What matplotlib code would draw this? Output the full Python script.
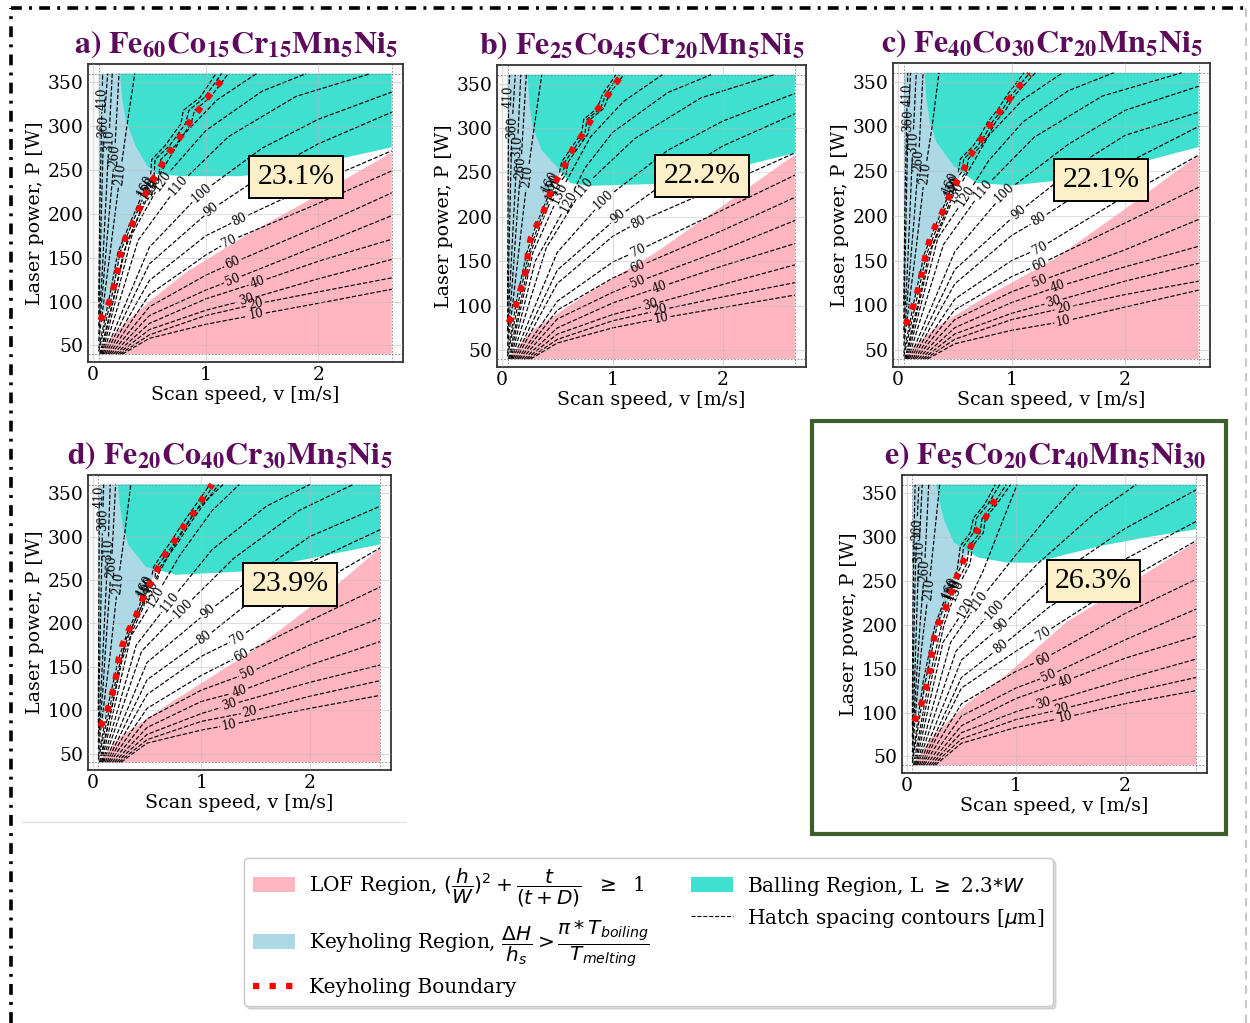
import numpy as np
import matplotlib
matplotlib.use('Agg')
import matplotlib.pyplot as plt
from matplotlib.contour import ContourSet
from matplotlib.patches import Patch, Rectangle
from matplotlib.lines import Line2D

plt.rcParams['font.family'] = 'DejaVu Serif'

W, H = 1250, 1023
LOF_C, KEY_C, BALL_C = '#ffb6c1', '#add8e6', '#40e0d0'

# ---------------- data ----------------
titles = [r'$\mathbf{a)\ Fe_{60}Co_{15}Cr_{15}Mn_{5}Ni_{5}}$',
          r'$\mathbf{b)\ Fe_{25}Co_{45}Cr_{20}Mn_{5}Ni_{5}}$',
          r'$\mathbf{c)\ Fe_{40}Co_{30}Cr_{20}Mn_{5}Ni_{5}}$',
          r'$\mathbf{d)\ Fe_{20}Co_{40}Cr_{30}Mn_{5}Ni_{5}}$',
          r'$\mathbf{e)\ Fe_{5}Co_{20}Cr_{40}Mn_{5}Ni_{30}}$']
percent = ['23.1%', '22.2%', '22.1%', '23.9%', '26.3%']
percent_pos = [(1.80, 242), (1.81, 246), (1.79, 240), (1.82, 245), (1.71, 250)]

# LOF region upper boundary (v [m/s], P [W])
lof_v = [[0.05, 0.11, 0.29, 0.52, 0.82, 1.20, 1.35, 2.00, 2.65],
         [0.05, 0.27, 0.78, 1.38, 1.98, 2.65],
         [0.05, 0.10, 0.34, 0.78, 1.37, 1.96, 2.65],
         [0.05, 0.25, 0.71, 1.48, 2.09, 2.65],
         [0.05, 0.25, 0.55, 0.92, 1.47, 2.08, 2.65]]
lof_P = [[40, 53, 76, 102, 133, 163, 175, 222, 270],
         [40, 72, 114, 159, 211, 270],
         [40, 50, 76, 110, 151, 204, 268],
         [40, 69, 108, 169, 227, 287],
         [40, 75, 110, 144, 204, 250, 295]]

# Balling region lower boundary
ball_v = [[0.24, 0.26, 0.29, 0.375, 0.48, 0.57, 0.80, 1.30, 1.60, 2.00, 2.30, 2.65],
          [0.23, 0.25, 0.28, 0.36, 0.50, 0.62, 0.80, 1.37, 1.80, 2.20, 2.65],
          [0.235, 0.25, 0.28, 0.34, 0.49, 0.69, 1.00, 1.37, 1.80, 2.20, 2.65],
          [0.23, 0.25, 0.28, 0.33, 0.49, 0.77, 1.42, 2.09, 2.65],
          [0.27, 0.30, 0.34, 0.43, 0.65, 0.92, 1.16, 1.77, 2.20, 2.65]]
ball_P = [[360, 330, 308, 278, 255, 245, 243, 243, 247, 258, 266, 276],
          [360, 325, 300, 275, 256, 238, 235, 237, 247, 258, 272],
          [360, 330, 305, 282, 256, 237, 234, 239, 250, 262, 277],
          [360, 335, 310, 290, 265, 256, 260, 277, 291],
          [360, 340, 320, 294, 277, 271, 271, 290, 300, 309]]

# Keyholing boundary
key_v = [[0.065, 0.124, 0.168, 0.197, 0.227, 0.248, 0.286, 0.345, 0.398, 0.448, 0.50, 0.566, 0.63, 0.705, 0.78, 0.846, 0.926, 1.0, 1.08, 1.165],
         [0.06, 0.114, 0.15, 0.19, 0.226, 0.235, 0.26, 0.316, 0.376, 0.42, 0.466, 0.54, 0.60, 0.656, 0.737, 0.80, 0.87, 0.947, 1.02, 1.08],
         [0.068, 0.118, 0.16, 0.19, 0.22, 0.244, 0.28, 0.33, 0.39, 0.44, 0.50, 0.57, 0.62, 0.69, 0.76, 0.83, 0.91, 0.99, 1.07, 1.16],
         [0.068, 0.123, 0.16, 0.194, 0.22, 0.237, 0.27, 0.32, 0.385, 0.437, 0.477, 0.548, 0.606, 0.668, 0.745, 0.815, 0.89, 0.97, 1.037, 1.10],
         [0.067, 0.119, 0.158, 0.189, 0.219, 0.228, 0.25, 0.289, 0.347, 0.393, 0.438, 0.48, 0.539, 0.60, 0.645, 0.72, 0.78, 0.843]]
key_P = [[78.5, 93, 108, 124.6, 140.6, 156.5, 172, 187.4, 202, 217.5, 232.7, 246, 261, 275.7, 289, 303, 316.4, 330, 343, 355.7],
         [81, 95, 111, 127, 143, 160, 176, 191, 206, 221, 236, 251, 266, 280, 294, 308, 322, 335, 349, 359],
         [78, 93, 110, 125, 142, 157, 174, 189, 204, 219, 234.5, 249, 264, 278, 291, 305, 319, 332, 345, 358.6],
         [81, 95, 111, 127, 142.7, 158.5, 174, 189.6, 205, 220, 234.6, 250.8, 265, 280, 293.5, 307.7, 321, 334.6, 349, 360],
         [90, 104.6, 120, 136, 152.5, 169, 185.5, 201.5, 216, 232, 248, 263, 278.6, 293, 308, 322, 336.7, 350.8]]

# Hatch spacing contours [um]: level -> polyline (v, P)
cont_a = {
    10: [(0.26, 40), (0.5, 58), (1.0, 74), (1.45, 85), (2.0, 98), (2.65, 114)],
    20: [(0.24, 40), (0.5, 62), (1.0, 84), (1.44, 97), (2.0, 111), (2.65, 127)],
    30: [(0.22, 40), (0.5, 68), (1.0, 90), (1.36, 102), (2.0, 126), (2.65, 148)],
    40: [(0.20, 40), (0.5, 75), (1.0, 103), (1.46, 122), (2.0, 146), (2.65, 171)],
    50: [(0.18, 40), (0.5, 84), (1.0, 113), (1.24, 125), (2.0, 164), (2.65, 198)],
    60: [(0.16, 40), (0.5, 94), (1.0, 130), (1.24, 144), (2.0, 186), (2.65, 224)],
    70: [(0.145, 40), (0.5, 108), (1.0, 153), (1.21, 169), (2.0, 212), (2.65, 249)],
    80: [(0.13, 40), (0.5, 124), (1.0, 175), (1.30, 194), (2.0, 236), (2.65, 272)],
    90: [(0.115, 40), (0.5, 143), (1.05, 205), (1.6, 252), (2.0, 280), (2.65, 316)],
    100: [(0.10, 40), (0.5, 162), (0.96, 224), (1.5, 275), (2.0, 308), (2.65, 339)],
    110: [(0.09, 40), (0.4, 170), (0.76, 233), (1.2, 288), (1.8, 334), (2.46, 360)],
    120: [(0.08, 40), (0.35, 178), (0.61, 238), (1.0, 295), (1.5, 340), (1.89, 360)],
    130: [(0.07, 40), (0.3, 168), (0.53, 232), (0.8, 290), (1.1, 330), (1.45, 360)],
    140: [(0.06, 40), (0.19, 108), (0.27, 156), (0.37, 187), (0.46, 217), (0.50, 228), (0.58, 240), (0.60, 262), (0.73, 278), (0.87, 303), (0.90, 318), (1.04, 333), (1.20, 360)],
    150: [(0.05, 43), (0.17, 108), (0.24, 156), (0.34, 187), (0.44, 217), (0.48, 230), (0.54, 240), (0.55, 262), (0.68, 278), (0.82, 303), (0.85, 318), (0.99, 333), (1.14, 360)],
    160: [(0.05, 47), (0.15, 108), (0.22, 156), (0.32, 187), (0.42, 217), (0.46, 232), (0.51, 242), (0.52, 262), (0.64, 278), (0.78, 303), (0.80, 318), (0.95, 333), (1.09, 360)],
    210: [(0.05, 55), (0.10, 105), (0.16, 165), (0.24, 245), (0.30, 300), (0.37, 360)],
    260: [(0.05, 63), (0.09, 120), (0.14, 195), (0.19, 266), (0.23, 360)],
    310: [(0.05, 72), (0.08, 130), (0.11, 205), (0.14, 283), (0.17, 360)],
    360: [(0.05, 85), (0.065, 160), (0.094, 300), (0.13, 360)],
    410: [(0.05, 100), (0.06, 210), (0.08, 331), (0.085, 360)],
}
lab_a = {10: (1.45, 85), 20: (1.44, 97), 30: (1.36, 102), 40: (1.46, 122), 50: (1.24, 125),
         60: (1.24, 144), 70: (1.21, 169), 80: (1.30, 194), 90: (1.05, 205), 100: (0.96, 224),
         110: (0.76, 233), 120: (0.61, 238), 130: (0.53, 232), 140: (0.50, 228), 150: (0.48, 230),
         160: (0.46, 232), 210: (0.24, 245), 260: (0.19, 266), 310: (0.14, 283), 360: (0.094, 300),
         410: (0.08, 331)}

cont_b = {
    10: [(0.26, 40), (0.5, 58), (1.0, 75), (1.44, 86), (2.0, 98), (2.65, 112)],
    20: [(0.24, 40), (0.5, 62), (1.0, 83), (1.43, 95), (2.0, 110), (2.65, 126)],
    30: [(0.22, 40), (0.5, 68), (1.0, 90), (1.34, 101), (2.0, 124), (2.65, 146)],
    40: [(0.20, 40), (0.5, 75), (1.0, 103), (1.43, 121), (2.0, 145), (2.65, 170)],
    50: [(0.18, 40), (0.5, 85), (1.0, 115), (1.23, 127), (2.0, 163), (2.65, 196)],
    60: [(0.16, 40), (0.5, 95), (1.0, 131), (1.23, 144), (2.0, 185), (2.65, 222)],
    70: [(0.145, 40), (0.5, 105), (1.0, 149), (1.23, 162), (2.0, 208), (2.65, 247)],
    80: [(0.13, 40), (0.5, 125), (1.0, 178), (1.23, 194), (2.0, 236), (2.65, 272)],
    90: [(0.115, 40), (0.5, 140), (1.05, 200), (1.6, 250), (2.0, 280), (2.65, 316)],
    100: [(0.10, 40), (0.5, 160), (0.92, 219), (1.5, 275), (2.0, 308), (2.65, 339)],
    110: [(0.09, 40), (0.4, 165), (0.74, 234), (1.2, 288), (1.8, 334), (2.46, 360)],
    120: [(0.08, 40), (0.3, 150), (0.60, 217), (0.75, 255), (1.0, 295), (1.5, 340), (1.89, 360)],
    130: [(0.07, 40), (0.28, 160), (0.52, 226), (0.8, 290), (1.1, 330), (1.45, 360)],
    140: [(0.06, 40), (0.18, 111), (0.26, 160), (0.35, 191), (0.45, 221), (0.47, 230), (0.58, 248), (0.60, 262), (0.70, 280), (0.78, 294), (0.80, 310), (0.92, 322), (0.97, 338), (1.10, 360)],
    150: [(0.05, 43), (0.16, 111), (0.245, 160), (0.33, 191), (0.43, 221), (0.45, 236), (0.55, 248), (0.57, 262), (0.67, 280), (0.75, 294), (0.77, 310), (0.89, 322), (0.94, 338), (1.06, 360)],
    160: [(0.05, 47), (0.14, 111), (0.225, 160), (0.31, 191), (0.41, 221), (0.43, 240), (0.52, 250), (0.54, 262), (0.64, 280), (0.72, 294), (0.74, 310), (0.86, 322), (0.91, 338), (1.03, 360)],
    210: [(0.05, 55), (0.10, 105), (0.16, 170), (0.23, 245), (0.29, 300), (0.36, 360)],
    260: [(0.05, 63), (0.09, 120), (0.13, 190), (0.17, 256), (0.22, 360)],
    310: [(0.05, 72), (0.08, 140), (0.11, 210), (0.14, 279), (0.17, 360)],
    360: [(0.05, 85), (0.065, 170), (0.09, 301), (0.12, 360)],
    410: [(0.05, 100), (0.055, 210), (0.06, 335), (0.07, 360)],
}
lab_b = {10: (1.44, 86), 20: (1.43, 95), 30: (1.34, 101), 40: (1.43, 121), 50: (1.23, 127),
         60: (1.23, 144), 70: (1.23, 162), 80: (1.23, 194), 90: (1.05, 200), 100: (0.92, 219),
         110: (0.74, 234), 120: (0.60, 217), 130: (0.52, 226), 140: (0.47, 230), 150: (0.45, 236),
         160: (0.43, 240), 210: (0.23, 245), 260: (0.17, 256), 310: (0.14, 279), 360: (0.09, 301),
         410: (0.06, 335)}

cont_c = {
    10: [(0.26, 40), (0.5, 57), (1.0, 72), (1.46, 82), (2.0, 98), (2.65, 117)],
    20: [(0.24, 40), (0.5, 62), (1.0, 84), (1.46, 97), (2.0, 112), (2.65, 127)],
    30: [(0.22, 40), (0.5, 68), (1.0, 91), (1.37, 104), (2.0, 127), (2.65, 147)],
    40: [(0.20, 40), (0.5, 75), (1.0, 103), (1.41, 121), (2.0, 143), (2.65, 166)],
    50: [(0.18, 40), (0.5, 84), (1.0, 115), (1.25, 127), (2.0, 162), (2.65, 196)],
    60: [(0.16, 40), (0.5, 95), (1.0, 132), (1.25, 146), (2.0, 192), (2.65, 232)],
    70: [(0.145, 40), (0.5, 107), (1.0, 150), (1.25, 164), (2.0, 222), (2.65, 268)],
    80: [(0.13, 40), (0.5, 124), (1.0, 178), (1.24, 196), (2.0, 258), (2.65, 300)],
    90: [(0.115, 40), (0.5, 140), (1.06, 204), (1.6, 258), (2.0, 290), (2.65, 316)],
    100: [(0.10, 40), (0.5, 160), (0.94, 226), (1.5, 280), (2.0, 318), (2.65, 345)],
    110: [(0.09, 40), (0.4, 168), (0.75, 230), (1.2, 288), (1.8, 334), (2.50, 360)],
    120: [(0.08, 40), (0.35, 175), (0.60, 222), (0.8, 262), (1.1, 305), (1.5, 340), (1.9, 360)],
    130: [(0.07, 40), (0.3, 165), (0.51, 226), (0.8, 290), (1.1, 330), (1.45, 360)],
    140: [(0.06, 40), (0.19, 110), (0.27, 157), (0.37, 189), (0.47, 219), (0.49, 232), (0.60, 249), (0.62, 264), (0.73, 278), (0.80, 291), (0.86, 305), (0.95, 319), (1.03, 335), (1.21, 360)],
    150: [(0.05, 43), (0.17, 110), (0.25, 157), (0.35, 189), (0.45, 219), (0.47, 234), (0.56, 249), (0.58, 264), (0.70, 278), (0.77, 291), (0.83, 305), (0.92, 319), (1.00, 335), (1.16, 360)],
    160: [(0.05, 47), (0.15, 110), (0.23, 157), (0.33, 189), (0.43, 219), (0.46, 237), (0.53, 249), (0.55, 264), (0.66, 278), (0.73, 291), (0.79, 305), (0.88, 319), (0.96, 335), (1.11, 360)],
    210: [(0.05, 55), (0.10, 105), (0.16, 165), (0.235, 247), (0.30, 300), (0.36, 360)],
    260: [(0.05, 63), (0.09, 120), (0.14, 195), (0.18, 262), (0.22, 360)],
    310: [(0.05, 72), (0.08, 135), (0.105, 205), (0.13, 282), (0.16, 360)],
    360: [(0.05, 85), (0.065, 170), (0.088, 307), (0.11, 360)],
    410: [(0.05, 100), (0.06, 210), (0.08, 335), (0.085, 360)],
}
lab_c = {10: (1.46, 82), 20: (1.46, 97), 30: (1.37, 104), 40: (1.41, 121), 50: (1.25, 127),
         60: (1.25, 146), 70: (1.25, 164), 80: (1.24, 196), 90: (1.06, 204), 100: (0.94, 226),
         110: (0.75, 230), 120: (0.60, 222), 130: (0.51, 226), 140: (0.49, 232), 150: (0.47, 234),
         160: (0.46, 237), 210: (0.235, 247), 260: (0.18, 262), 310: (0.13, 282), 360: (0.088, 307),
         410: (0.08, 335)}

cont_d = {
    10: [(0.26, 40), (0.5, 62), (1.0, 77), (1.26, 83), (2.0, 102), (2.65, 117)],
    20: [(0.24, 40), (0.5, 66), (1.0, 87), (1.45, 98), (2.0, 116), (2.65, 134)],
    30: [(0.22, 40), (0.5, 72), (1.0, 96), (1.26, 106), (2.0, 132), (2.65, 152)],
    40: [(0.20, 40), (0.5, 80), (1.0, 110), (1.35, 121.5), (2.0, 152), (2.65, 179)],
    50: [(0.18, 40), (0.5, 90), (1.0, 123), (1.43, 142.7), (2.0, 175), (2.65, 206)],
    60: [(0.16, 40), (0.5, 102), (1.0, 140), (1.37, 163.5), (2.0, 203), (2.65, 242)],
    70: [(0.145, 40), (0.5, 118), (1.0, 162), (1.34, 183), (2.0, 240), (2.65, 287)],
    80: [(0.13, 40), (0.5, 135), (1.03, 183), (1.5, 230), (2.0, 270), (2.65, 308)],
    90: [(0.115, 40), (0.5, 155), (1.06, 213.5), (1.6, 265), (2.0, 300), (2.65, 335)],
    100: [(0.10, 40), (0.45, 168), (0.83, 217), (1.3, 275), (1.9, 330), (2.40, 360)],
    110: [(0.09, 40), (0.4, 175), (0.71, 225), (1.1, 285), (1.6, 335), (2.0, 360)],
    120: [(0.08, 40), (0.35, 185), (0.58, 231), (0.8, 278), (1.1, 330), (1.35, 360)],
    130: [(0.07, 40), (0.3, 180), (0.52, 238), (0.75, 290), (0.95, 330), (1.2, 360)],
    140: [(0.06, 40), (0.19, 111), (0.27, 158), (0.36, 190), (0.47, 220), (0.50, 240), (0.60, 252), (0.62, 265), (0.72, 282), (0.79, 294), (0.86, 308), (0.93, 321), (1.01, 335), (1.16, 360)],
    150: [(0.05, 43), (0.17, 111), (0.255, 158), (0.34, 190), (0.45, 220), (0.49, 242), (0.57, 252), (0.59, 265), (0.69, 282), (0.76, 294), (0.83, 308), (0.90, 321), (0.98, 335), (1.12, 360)],
    160: [(0.05, 47), (0.15, 111), (0.235, 158), (0.32, 190), (0.43, 220), (0.48, 244), (0.54, 252), (0.56, 265), (0.65, 282), (0.72, 294), (0.79, 308), (0.86, 321), (0.94, 335), (1.08, 360)],
    210: [(0.05, 55), (0.10, 105), (0.16, 165), (0.23, 246), (0.29, 300), (0.35, 360)],
    260: [(0.05, 63), (0.09, 120), (0.13, 195), (0.17, 265), (0.21, 360)],
    310: [(0.05, 72), (0.08, 135), (0.11, 210), (0.14, 285), (0.16, 360)],
    360: [(0.05, 85), (0.065, 170), (0.09, 319), (0.10, 360)],
    410: [(0.05, 100), (0.055, 210), (0.06, 346), (0.065, 360)],
}
lab_d = {10: (1.26, 83), 20: (1.45, 98), 30: (1.26, 106), 40: (1.35, 121.5), 50: (1.43, 142.7),
         60: (1.37, 163.5), 70: (1.34, 183), 80: (1.03, 183), 90: (1.06, 213.5), 100: (0.83, 217),
         110: (0.71, 225), 120: (0.58, 231), 130: (0.52, 238), 140: (0.50, 240), 150: (0.49, 242),
         160: (0.48, 244), 210: (0.23, 246), 260: (0.17, 265), 310: (0.14, 285), 360: (0.09, 319),
         410: (0.06, 346)}

cont_e = {
    10: [(0.26, 40), (0.5, 65), (1.0, 83), (1.45, 94.4), (2.0, 110), (2.65, 125)],
    20: [(0.24, 40), (0.5, 70), (1.0, 92), (1.42, 104), (2.0, 122), (2.65, 140)],
    30: [(0.22, 40), (0.5, 77), (1.0, 101), (1.25, 110), (2.0, 138), (2.65, 161)],
    40: [(0.20, 40), (0.5, 85), (1.0, 116), (1.45, 136), (2.0, 162), (2.65, 187)],
    50: [(0.18, 40), (0.5, 96), (1.0, 128), (1.30, 142), (2.0, 183), (2.65, 218)],
    60: [(0.16, 40), (0.5, 110), (1.0, 147), (1.25, 161), (2.0, 213), (2.65, 252)],
    70: [(0.145, 40), (0.5, 128), (1.0, 170), (1.25, 190), (2.0, 250), (2.65, 296)],
    80: [(0.13, 40), (0.5, 140), (0.86, 175), (1.3, 220), (2.0, 275), (2.65, 318)],
    90: [(0.115, 40), (0.5, 160), (0.87, 199), (1.3, 250), (2.0, 310), (2.65, 354)],
    100: [(0.10, 40), (0.45, 170), (0.80, 218), (1.2, 270), (1.7, 325), (2.10, 360)],
    110: [(0.09, 40), (0.4, 180), (0.66, 227), (1.0, 280), (1.3, 325), (1.56, 360)],
    120: [(0.08, 40), (0.33, 180), (0.54, 220), (0.7, 262), (0.85, 310), (1.01, 360)],
    130: [(0.07, 40), (0.22, 135), (0.34, 200), (0.45, 239), (0.58, 270), (0.60, 290), (0.70, 305), (0.72, 322), (0.82, 337), (0.95, 360)],
    140: [(0.06, 40), (0.20, 136), (0.32, 201), (0.42, 240), (0.55, 270), (0.57, 290), (0.67, 305), (0.69, 322), (0.79, 337), (0.91, 360)],
    150: [(0.05, 43), (0.17, 136), (0.28, 201), (0.40, 241), (0.50, 268), (0.52, 290), (0.61, 305), (0.64, 322), (0.74, 337), (0.85, 360)],
    160: [(0.05, 47), (0.15, 136), (0.26, 201), (0.39, 242.5), (0.46, 262), (0.49, 290), (0.58, 305), (0.61, 322), (0.71, 337), (0.81, 360)],
    210: [(0.05, 55), (0.09, 115), (0.14, 180), (0.20, 240.6), (0.25, 300), (0.30, 360)],
    260: [(0.05, 63), (0.08, 125), (0.12, 200), (0.16, 261.5), (0.20, 360)],
    310: [(0.05, 72), (0.07, 135), (0.09, 210), (0.11, 284), (0.14, 360)],
    360: [(0.05, 85), (0.06, 165), (0.075, 250), (0.09, 309), (0.11, 360)],
    410: [(0.05, 100), (0.055, 210), (0.065, 300), (0.075, 360)],
}
lab_e = {10: (1.45, 94.4), 20: (1.42, 104), 30: (1.25, 110), 40: (1.45, 136), 50: (1.30, 142),
         60: (1.25, 161), 70: (1.25, 190), 80: (0.86, 175), 90: (0.87, 199), 100: (0.80, 218),
         110: (0.66, 227), 120: (0.54, 220), 130: (0.45, 239), 140: (0.42, 240), 150: (0.40, 241),
         160: (0.39, 242.5), 210: (0.20, 240.6), 260: (0.16, 261.5), 310: (0.11, 284), 360: (0.09, 309)}

contours = [cont_a, cont_b, cont_c, cont_d, cont_e]
labels = [lab_a, lab_b, lab_c, lab_d, lab_e]

xticks = [0, 1, 2]
yticks = [50, 100, 150, 200, 250, 300, 350]

# axes rectangles in pixels: left, right, top, bottom
axes_px = [(88, 403, 64, 362), (497, 806, 65, 367), (893, 1210, 63, 367),
           (88, 391, 475, 770), (902, 1207, 475, 773)]

# ---------------- figure ----------------
fig = plt.figure(figsize=(W / 100, H / 100), dpi=100)

V0, V1, P0, P1 = 0.05, 2.65, 40, 360

for i in range(5):
    l, r, t, b = axes_px[i]
    ax = fig.add_axes([l / W, 1 - b / H, (r - l) / W, (b - t) / H])
    ax.set_xlim(-0.045, 2.75)
    ax.set_ylim(31, 371)
    ax.set_facecolor('#fafafa')
    ax.fill([V0, V1, V1, V0], [P0, P0, P1, P1], color='white', lw=0, zorder=0.9)
    kv, kp = key_v[i], key_P[i]
    # keyhole region
    poly_v = [V0, V0, kv[-1]] + kv[::-1] + [0.06]
    poly_p = [P0, P1, P1] + kp[::-1] + [P0]
    ax.fill(poly_v, poly_p, color=KEY_C, lw=0, zorder=1)
    # balling region
    ax.fill(ball_v[i] + [V1, ball_v[i][0]], ball_P[i] + [P1, P1], color=BALL_C, lw=0, zorder=1.1)
    # LOF region
    ax.fill(lof_v[i] + [V1], lof_P[i] + [P0], color=LOF_C, lw=0, zorder=1.2)
    # domain outline
    for vv in (V0, V1):
        ax.axvline(vv, color='#888888', ls=(0, (2, 2)), lw=0.6, zorder=1.5)
    for pp in (P0, P1):
        ax.axhline(pp, color='#888888', ls=(0, (2, 2)), lw=0.6, zorder=1.5)
    ax.grid(True, color='#b8b8b8', lw=0.8, alpha=0.45)
    ax.set_axisbelow(False)
    # contours
    for lev, pts in contours[i].items():
        arr = np.array(pts, dtype=float)
        cs = ContourSet(ax, [lev], [[arr]], colors='k', linewidths=0.85, linestyles='dashed')
        if lev in labels[i]:
            ax.clabel(cs, [lev], inline=True, fontsize=8.5, fmt='%d',
                      manual=[labels[i][lev]], inline_spacing=2)
    # keyholing boundary
    ax.plot(kv, kp, color='red', ls=':', lw=4.5, zorder=4)
    # percentage
    ax.text(percent_pos[i][0], percent_pos[i][1], percent[i], fontsize=21.5,
            family='Liberation Serif', ha='center', va='center', zorder=5,
            bbox=dict(boxstyle='square,pad=0.28', fc='#fdf0c8', ec='black', lw=1.4))
    ax.set_xticks(xticks)
    ax.set_yticks(yticks)
    ax.tick_params(labelsize=13.5, length=0, pad=3)
    for sp in ax.spines.values():
        sp.set_color('#333333')
        sp.set_linewidth(1.3)
    ax.set_xlabel('Scan speed, v [m/s]', fontsize=13.7, labelpad=1)
    ax.set_ylabel('Laser power, P [W]', fontsize=13.7, labelpad=3)
    ax.text(0.47, 1.012, titles[i], transform=ax.transAxes, ha='center', va='bottom',
            fontsize=23, color='#5c0a5c', math_fontfamily='stix')

# legend
handles = [Patch(fc=LOF_C, ec='none'), Patch(fc=KEY_C, ec='none'),
           Line2D([], [], color='red', ls=':', lw=4.5),
           Patch(fc=BALL_C, ec='none'), Line2D([], [], color='k', ls='--', lw=0.8)]
leg_labels = [r'LOF Region, $(\dfrac{h}{W})^2+\dfrac{t}{(t+D)}$  $\geq$  1',
              r'Keyholing Region, $\dfrac{\Delta H}{h_s}>\dfrac{\pi*T_{boiling}}{T_{melting}}$',
              'Keyholing Boundary',
              r'Balling Region, L $\geq$ 2.3$*W$',
              r'Hatch spacing contours [$\mu$m]']
fig.legend(handles, leg_labels, ncol=2, loc='center', bbox_to_anchor=(648.5 / W, 1 - 932 / H),
           prop={'size': 14.5}, frameon=True, fancybox=True,
           shadow={'color': '#bbbbbb'}, edgecolor='#c8c8c8', framealpha=1,
           handlelength=2.1, handleheight=0.8, handletextpad=0.7, columnspacing=2.0,
           labelspacing=0.45, borderpad=0.45)

# frames / decorations
fig.add_artist(Rectangle((812 / W, 1 - 834 / H), 414 / W, 413 / H, transform=fig.transFigure,
                         fill=False, ec='#3b5e2b', lw=3))
fig.add_artist(Line2D([22 / W, 405 / W], [1 - 822 / H] * 2, transform=fig.transFigure,
                      color='#e2e2e2', lw=1))
fig.add_artist(Line2D([11 / W, 11 / W], [0, 1 - 8 / H], transform=fig.transFigure,
                      color='black', lw=2.6, ls=(0, (3, 2, 0.8, 2))))
fig.add_artist(Line2D([11 / W, 1], [1 - 8 / H] * 2, transform=fig.transFigure,
                      color='black', lw=2.6, ls=(0, (3, 2, 0.8, 2))))
fig.add_artist(Line2D([1246 / W] * 2, [0, 1 - 8 / H], transform=fig.transFigure,
                      color='#c8c8c8', lw=1.5, ls=(0, (4, 3))))

fig.savefig('out.png', dpi=100)
